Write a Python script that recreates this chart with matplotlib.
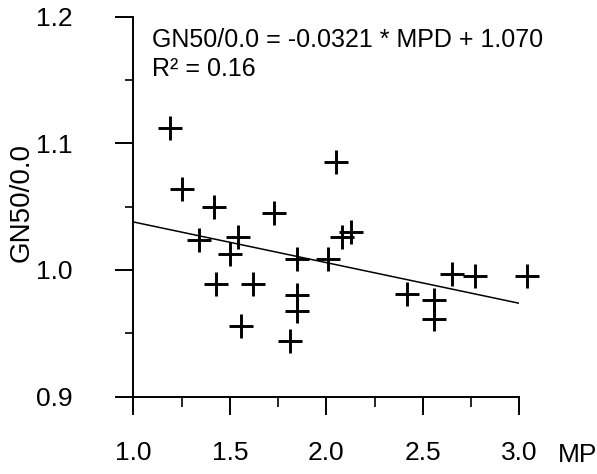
import numpy as np
import matplotlib
matplotlib.use("Agg")
import matplotlib.pyplot as plt
from matplotlib.ticker import MultipleLocator

plt.rcParams['font.family'] = ['Liberation Sans', 'DejaVu Sans']

# data (MPD vs GN50/0.0)
mpd = [1.19, 1.25, 1.42, 1.73, 2.05, 1.34, 1.54, 1.50, 1.85, 2.01, 2.08, 2.13,
       1.43, 1.62, 1.85, 1.85, 1.56, 1.81, 2.42, 2.56, 2.56, 2.65, 2.77, 3.04]
gn50 = [1.112, 1.064, 1.050, 1.045, 1.085, 1.024, 1.026, 1.013, 1.009, 1.009, 1.026, 1.030,
        0.989, 0.989, 0.980, 0.968, 0.956, 0.944, 0.981, 0.976, 0.961, 0.997, 0.995, 0.995]

slope = -0.0321
intercept = 1.070
fit_x = [1.0, 3.0]

xticks = [1.0, 1.5, 2.0, 2.5, 3.0]
yticks = [0.9, 1.0, 1.1, 1.2]

fig = plt.figure(figsize=(5.97, 4.74), dpi=100)
ax = fig.add_axes([0.2233, 0.1631, 0.6466, 0.802])

ax.plot(mpd, gn50, '+', color='black', markersize=17, mew=2.1, clip_on=False)
ax.plot(fit_x, [slope * x + intercept for x in fit_x], color='black', lw=1.1)

ax.set_xlim(1.0, 3.0)
ax.set_ylim(0.9, 1.2)
ax.set_xticks(xticks)
ax.set_xticklabels(['%.1f' % v for v in xticks])
ax.set_yticks(yticks)
ax.set_yticklabels(['%.1f' % v for v in yticks])
ax.xaxis.set_minor_locator(MultipleLocator(0.25))
ax.yaxis.set_minor_locator(MultipleLocator(0.05))

for s in ['top', 'right']:
    ax.spines[s].set_visible(False)
for s in ['left', 'bottom']:
    ax.spines[s].set_linewidth(1.4)

ax.tick_params(axis='x', which='major', length=13, width=1.4, pad=19, labelsize=19)
ax.tick_params(axis='x', which='minor', length=7, width=1.2)
ax.tick_params(axis='y', which='major', length=13, width=1.4, pad=31, labelsize=19)
ax.tick_params(axis='y', which='minor', length=6, width=1.2)

# axis title sits beside the last tick label and runs off the right edge, as in the source
ax.annotate('MPD', xy=(1, 0), xycoords='axes fraction', xytext=(28, -42),
            textcoords='offset points', ha='left', va='center', fontsize=19,
            annotation_clip=False)
fig.text(22 / 597, 1 - 203 / 474, 'GN50/0.0', rotation=90, ha='center', va='center', fontsize=20)

ax.text(1.095, 1.1815, 'GN50/0.0 = -0.0321 * MPD + 1.070', fontsize=18, ha='left', va='center')
ax.text(1.095, 1.1585, 'R² = 0.16', fontsize=18, ha='left', va='center')

fig.savefig('out.png', dpi=100)
